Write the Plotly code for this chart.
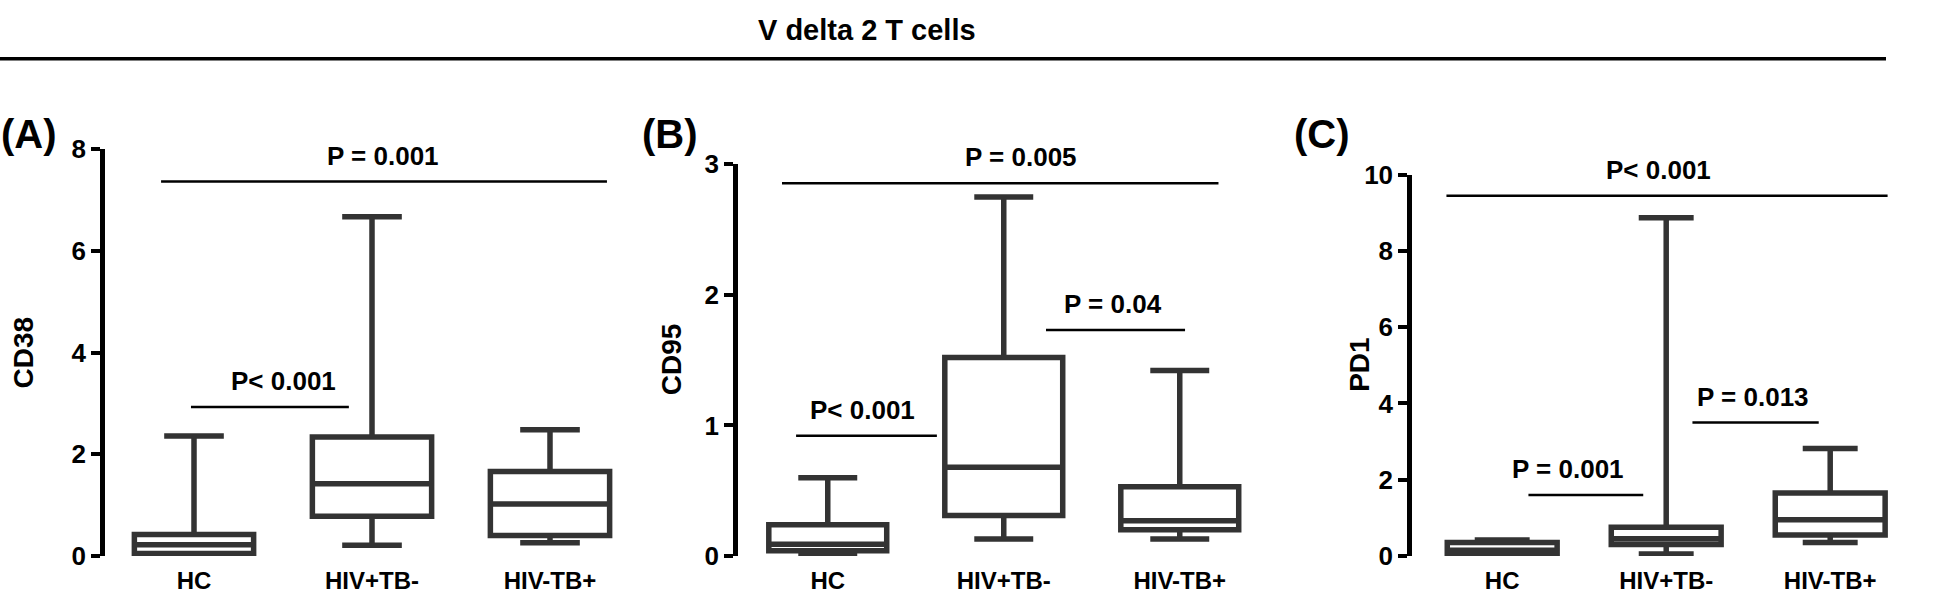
import plotly.graph_objects as go

W, H = 1943, 609

categories = ["HC", "HIV+TB-", "HIV-TB+"]

# CD38 (panel A)
cd38_min = [0.0, 0.21, 0.26]
cd38_q1 = [0.05, 0.78, 0.40]
cd38_med = [0.22, 1.42, 1.02]
cd38_q3 = [0.42, 2.34, 1.66]
cd38_max = [2.36, 6.67, 2.48]

# CD95 (panel B)
cd95_min = [0.0, 0.13, 0.13]
cd95_q1 = [0.04, 0.31, 0.20]
cd95_med = [0.09, 0.68, 0.27]
cd95_q3 = [0.24, 1.52, 0.53]
cd95_max = [0.60, 2.75, 1.42]

# PD1 (panel C)
pd1_min = [0.02, 0.05, 0.35]
pd1_q1 = [0.05, 0.30, 0.55]
pd1_med = [0.15, 0.45, 0.95]
pd1_q3 = [0.35, 0.75, 1.65]
pd1_max = [0.42, 8.87, 2.82]

# p-value comparisons: (x0, x1, line_y, text, text_x)
cmp_a = [(-0.185, 2.32, 7.36, "P = 0.001", 1.06),
         (-0.017, 0.87, 2.93, "P< 0.001", 0.50)]
cmp_b = [(-0.26, 2.22, 2.855, "P = 0.005", 1.10),
         (-0.18, 0.62, 0.92, "P< 0.001", 0.20),
         (1.24, 2.03, 1.73, "P = 0.04", 1.62)]
cmp_c = [(-0.34, 2.35, 9.45, "P< 0.001", 0.95),
         (0.16, 0.86, 1.60, "P = 0.001", 0.40),
         (1.16, 1.93, 3.50, "P = 0.013", 1.53)]

FONT = "Liberation Sans, Arial, sans-serif"
BOX_COLOR = "#333333"

panels = [
    dict(name="A", title="CD38", mn=cd38_min, q1=cd38_q1, med=cd38_med, q3=cd38_q3, mx=cd38_max,
         yr=[0, 8], dtick=2, xr=[-0.5, 2.5], xd=(105, 639), ytop=141, cmp=cmp_a,
         lab=(29, 125), ttl=(24, 355)),
    dict(name="B", title="CD95", mn=cd95_min, q1=cd95_q1, med=cd95_med, q3=cd95_q3, mx=cd95_max,
         yr=[0, 3], dtick=1, xr=[-0.51, 2.49], xd=(738, 1266), ytop=157, cmp=cmp_b,
         lab=(670, 125), ttl=(671, 362)),
    dict(name="C", title="PD1", mn=pd1_min, q1=pd1_q1, med=pd1_med, q3=pd1_q3, mx=pd1_max,
         yr=[0, 10], dtick=2, xr=[-0.55, 2.45], xd=(1412, 1904), ytop=168, cmp=cmp_c,
         lab=(1322, 125), ttl=(1360, 368)),
]

YBOT = 569

fig = go.Figure()
annotations = []
shapes = []
layout = {}

for i, p in enumerate(panels):
    sfx = "" if i == 0 else str(i + 1)
    xa, ya = "x" + sfx, "y" + sfx
    fig.add_trace(go.Box(
        x=[0, 1, 2], q1=p["q1"], median=p["med"], q3=p["q3"],
        lowerfence=p["mn"], upperfence=p["mx"],
        width=0.67, whiskerwidth=0.5, boxpoints=False,
        fillcolor="white", line=dict(color=BOX_COLOR, width=5.5),
        showlegend=False, hoverinfo="skip", xaxis=xa, yaxis=ya,
    ))
    layout["xaxis" + sfx] = dict(
        domain=[p["xd"][0] / W, p["xd"][1] / W], range=p["xr"], anchor=ya,
        showline=False, showgrid=False, zeroline=False, ticks="",
        tickvals=[0, 1, 2], ticktext=categories, ticklabelstandoff=8,
        tickfont=dict(family=FONT, size=24, color="black", weight="bold"),
    )
    layout["yaxis" + sfx] = dict(
        domain=[1 - YBOT / H, 1 - p["ytop"] / H], range=p["yr"], anchor=xa,
        showline=True, linewidth=4.5, linecolor="black", showgrid=False, zeroline=False,
        ticks="outside", ticklen=9, tickwidth=3.5, tickcolor="black", dtick=p["dtick"],
        tickfont=dict(family=FONT, size=26, color="black", weight="bold"),
    )
    for (x0, x1, ly, txt, tx) in p["cmp"]:
        shapes.append(dict(type="line", xref=xa, yref=ya, x0=x0, x1=x1, y0=ly, y1=ly,
                           line=dict(color="black", width=2.5)))
        annotations.append(dict(xref=xa, yref=ya, x=tx, y=ly, yshift=26, text=txt, showarrow=False,
                                font=dict(family=FONT, size=26, color="black", weight="bold"),
                                xanchor="center", yanchor="middle"))
    annotations.append(dict(xref="paper", yref="paper", x=p["lab"][0] / W, y=1 - p["lab"][1] / H,
                            text="(" + p["name"] + ")", showarrow=False,
                            font=dict(family=FONT, size=40, color="black", weight="bold"),
                            xanchor="center", yanchor="middle"))
    annotations.append(dict(xref="paper", yref="paper", x=p["ttl"][0] / W, y=1 - p["ttl"][1] / H,
                            text=p["title"], textangle=-90, showarrow=False,
                            font=dict(family=FONT, size=28, color="black", weight="bold"),
                            xanchor="center", yanchor="middle"))

annotations.append(dict(xref="paper", yref="paper", x=867 / W, y=1 - 16 / H,
                        text="V delta 2 T cells", showarrow=False,
                        font=dict(family=FONT, size=29, color="black", weight="bold"),
                        xanchor="center", yanchor="middle"))
shapes.append(dict(type="line", xref="paper", yref="paper", x0=0, x1=1886 / W,
                   y0=1 - 46 / H, y1=1 - 46 / H, line=dict(color="black", width=3.5)))

fig.update_layout(
    width=W, height=H, margin=dict(l=0, r=0, t=0, b=0),
    paper_bgcolor="white", plot_bgcolor="white",
    annotations=annotations, shapes=shapes, **layout,
)

fig.write_html("out.html", config={"displayModeBar": False},
               post_script="document.body.style.margin='0';document.body.style.overflow='hidden';")
